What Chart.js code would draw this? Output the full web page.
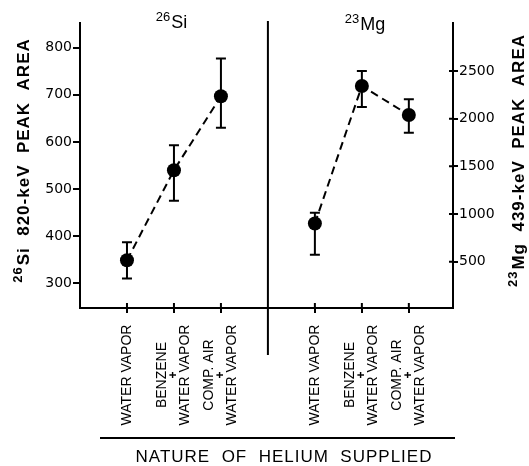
<!DOCTYPE html>
<html>
<head>
<meta charset="utf-8">
<script src="https://cdn.jsdelivr.net/npm/chart.js@4.4.0/dist/chart.umd.min.js"></script>
<style>
  html, body { margin: 0; padding: 0; background: #fff; }
  #wrap { width: 529px; height: 466px; }
</style>
</head>
<body>
<div id="wrap"><canvas id="myChart" width="529" height="466"></canvas></div>
<script>
// Chart data
const categoryPos = [1, 2, 3, 5, 6, 7];
const categoryLabels = [
  ["WATER VAPOR"],
  ["BENZENE", "+", "WATER VAPOR"],
  ["COMP. AIR", "+", "WATER VAPOR"],
  ["WATER VAPOR"],
  ["BENZENE", "+", "WATER VAPOR"],
  ["COMP. AIR", "+", "WATER VAPOR"],
];
const dividerPos = 4;

// 26Si 820-keV peak area (left axis)
const siX = [1, 2, 3];
const siArea = [349, 540, 697];
const siLow = [310, 475, 630];
const siHigh = [387, 593, 777];

// 23Mg 439-keV peak area (right axis)
const mgX = [5, 6, 7];
const mgArea = [901, 2342, 2039];
const mgLow = [573, 2123, 1853];
const mgHigh = [1014, 2500, 2203];

const leftTicks = [300, 400, 500, 600, 700, 800];
const rightTicks = [500, 1000, 1500, 2000, 2500];

const ctx = document.getElementById("myChart");
const INK = "#000";

function toPoints(xs, ys) {
  return xs.map((x, i) => ({ x: x, y: ys[i] }));
}

// draws "sup" + "main" text centred at (0,0) in current transform
function drawSupText(c, sup, main, font, supFont, supRise) {
  c.font = supFont;
  const ws = c.measureText(sup).width;
  c.font = font;
  const wm = c.measureText(main).width;
  const start = -(ws + wm) / 2;
  c.textAlign = "left";
  c.textBaseline = "alphabetic";
  c.font = supFont;
  c.fillText(sup, start, -supRise);
  c.font = font;
  c.fillText(main, start + ws + 1, 0);
}

// error bars, divider, titles and labels
const extras = {
  id: "extras",
  beforeDatasetsDraw: (chart) => {
    const c = chart.ctx;
    const x = chart.scales.x;
    const y = chart.scales.y;
    const y1 = chart.scales.y1;
    c.save();
    c.strokeStyle = INK;
    c.lineWidth = 2;
    const bars = [
      [siX, siLow, siHigh, y],
      [mgX, mgLow, mgHigh, y1],
    ];
    bars.forEach(([xs, lo, hi, sc]) => {
      xs.forEach((v, i) => {
        const px = x.getPixelForValue(v);
        const pl = sc.getPixelForValue(lo[i]);
        const ph = sc.getPixelForValue(hi[i]);
        c.beginPath();
        c.moveTo(px, pl);
        c.lineTo(px, ph);
        c.moveTo(px - 5, pl);
        c.lineTo(px + 5, pl);
        c.moveTo(px - 5, ph);
        c.lineTo(px + 5, ph);
        c.stroke();
      });
    });
    c.restore();
  },
  afterDraw: (chart) => {
    const c = chart.ctx;
    const area = chart.chartArea;
    const x = chart.scales.x;
    const y1 = chart.scales.y1;
    c.save();
    c.strokeStyle = INK;
    c.fillStyle = INK;
    c.lineWidth = 2;

    // inner half of the bottom and right tick marks
    c.beginPath();
    categoryPos.forEach((v) => {
      const px = x.getPixelForValue(v);
      c.moveTo(px, area.bottom);
      c.lineTo(px, area.bottom - 5);
    });
    rightTicks.forEach((v) => {
      const py = y1.getPixelForValue(v);
      c.moveTo(area.right, py);
      c.lineTo(area.right - 4, py);
    });
    c.stroke();

    // divider between the two panels
    const dx = x.getPixelForValue(dividerPos);
    c.beginPath();
    c.moveTo(dx, area.top - 2);
    c.lineTo(dx, area.bottom + 47);
    c.stroke();

    // panel titles
    c.save();
    c.translate((area.left + dx) / 2 - 3, 28);
    drawSupText(c, "26", "Si", "18px 'Liberation Sans'", "13px 'Liberation Sans'", 7);
    c.restore();
    c.save();
    c.translate((dx + area.right) / 2 + 4, 30);
    drawSupText(c, "23", "Mg", "18px 'Liberation Sans'", "13px 'Liberation Sans'", 7);
    c.restore();

    // axis titles
    c.letterSpacing = "1px";
    c.save();
    c.translate(29, 161);
    c.rotate(-Math.PI / 2);
    drawSupText(c, "26", "Si  820-keV  PEAK  AREA", "bold 17px 'Liberation Sans'", "bold 13px 'Liberation Sans'", 7);
    c.restore();
    c.save();
    c.translate(524, 161);
    c.rotate(-Math.PI / 2);
    drawSupText(c, "23", "Mg  439-keV  PEAK  AREA", "bold 17px 'Liberation Sans'", "bold 13px 'Liberation Sans'", 7);
    c.restore();
    c.letterSpacing = "0px";

    // category labels, rotated
    categoryLabels.forEach((lines, i) => {
      const px = x.getPixelForValue(categoryPos[i]);
      const offsets = lines.length === 1 ? [0] : [-12, 0, 11];
      lines.forEach((t, j) => {
        c.save();
        c.translate(px + offsets[j], 375);
        c.rotate(-Math.PI / 2);
        c.textAlign = "center";
        c.textBaseline = "middle";
        c.font = t === "+" ? "bold 12px 'Liberation Sans'" : "14px 'Liberation Sans'";
        c.fillText(t, 0, 0);
        c.restore();
      });
    });

    // bottom rule and title
    c.beginPath();
    c.moveTo(100, 438);
    c.lineTo(455, 438);
    c.stroke();
    c.font = "17px 'Liberation Sans'";
    c.letterSpacing = "1px";
    c.textAlign = "center";
    c.textBaseline = "middle";
    c.fillText("NATURE  OF  HELIUM  SUPPLIED", 284, 457);
    c.restore();
  },
};

const data = {
  datasets: [
    {
      label: "26Si",
      data: toPoints(siX, siArea),
      yAxisID: "y",
      showLine: true,
      borderColor: INK,
      backgroundColor: INK,
      borderWidth: 2,
      borderDash: [8, 5],
      pointRadius: 7,
      pointBorderWidth: 0,
    },
    {
      label: "23Mg",
      data: toPoints(mgX, mgArea),
      yAxisID: "y1",
      showLine: true,
      borderColor: INK,
      backgroundColor: INK,
      borderWidth: 2,
      borderDash: [8, 5],
      pointRadius: 7,
      pointBorderWidth: 0,
    },
  ],
};

const tickFont = { family: "DejaVu Sans", size: 14 };
const plainTick = (v) => String(v);

const config = {
  type: "scatter",
  data,
  options: {
    responsive: false,
    maintainAspectRatio: false,
    animation: false,
    layout: { padding: { top: 23, left: 0, right: 0, bottom: 0 } },
    plugins: {
      legend: { display: false },
      tooltip: { enabled: false },
    },
    scales: {
      x: {
        type: "linear",
        min: 0,
        max: 7.94,
        afterBuildTicks: (s) => {
          s.ticks = categoryPos.map((v) => ({ value: v }));
        },
        afterFit: (s) => {
          s.height = 158;
        },
        ticks: { display: false },
        grid: { drawOnChartArea: false, color: INK, lineWidth: 2, tickLength: 5 },
        border: { display: true, color: INK, width: 2 },
      },
      y: {
        position: "left",
        min: 247.6,
        max: 852.4,
        afterBuildTicks: (s) => {
          s.ticks = leftTicks.map((v) => ({ value: v }));
        },
        afterFit: (s) => {
          s.width = 80;
        },
        ticks: { color: INK, font: tickFont, padding: 1, callback: plainTick },
        grid: { drawOnChartArea: false, color: INK, lineWidth: 2, tickLength: 7 },
        border: { display: true, color: INK, width: 2 },
      },
      y1: {
        position: "right",
        min: 14.4,
        max: 3003,
        afterBuildTicks: (s) => {
          s.ticks = rightTicks.map((v) => ({ value: v }));
        },
        afterFit: (s) => {
          s.width = 76;
        },
        ticks: { color: INK, font: tickFont, padding: 1, callback: plainTick },
        grid: { drawOnChartArea: false, color: INK, lineWidth: 2, tickLength: 5 },
        border: { display: true, color: INK, width: 2 },
      },
    },
  },
  plugins: [extras],
};

new Chart(ctx, config);
</script>
</body>
</html>
